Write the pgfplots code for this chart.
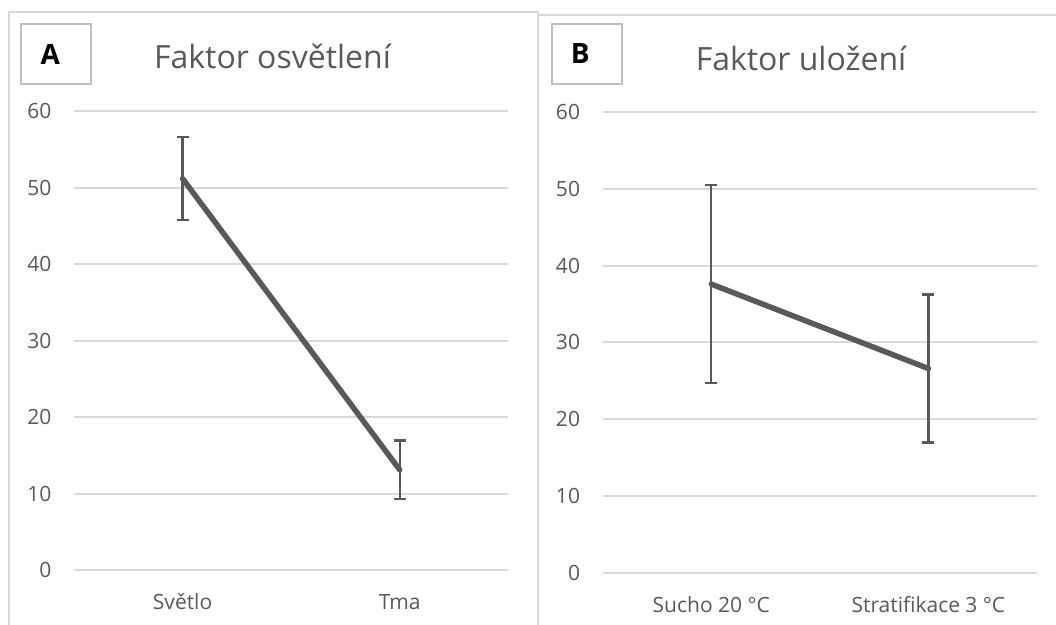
\documentclass[border=0pt]{standalone}
\usepackage{fontspec}
\setmainfont{Open Sans}
\usepackage{pgfplots}
\pgfplotsset{compat=1.18}
\definecolor{txt}{HTML}{595959}
\definecolor{gridc}{HTML}{D9D9D9}
\definecolor{boxc}{HTML}{BFBFBF}
\definecolor{serc}{HTML}{595959}
\pgfplotsset{
  panel/.style={
    scale only axis, width=434.3bp,
    xmin=-0.5, xmax=1.5, ymin=0, ymax=60,
    ytick={0,10,...,60}, xtick={0,1},
    axis line style={draw=none},
    major tick length=0pt,
    ymajorgrids, grid style={gridc, line width=2bp},
    tick label style={font=\fontsize{21bp}{25bp}\selectfont, text=txt},
    /pgf/number format/assume math mode=true,
    yticklabel style={anchor=east, inner sep=0pt, xshift=-22.5bp},
    xticklabel style={anchor=base, inner sep=0pt, yshift=-39.5bp},
    clip=false,
  },
  myser/.style={serc, line width=5.5bp, line cap=round, line join=round, mark=none,
    error bars/.cd, y dir=both, y explicit,
    error bar style={line width=2.3bp, serc, line cap=butt},
    error mark options={rotate=90, mark size=6bp, line width=2.3bp, serc}},
}
\begin{document}
\begin{tikzpicture}
\useasboundingbox (0,0) rectangle (1056bp,625bp);
% frames
\draw[gridc, line width=2bp] (9.3bp,-5bp) -- (9.3bp,613.3bp) -- (538.3bp,613.3bp) -- (538.3bp,-5bp);
\draw[gridc, line width=2bp] (1070bp,610.3bp) -- (538.3bp,610.3bp) -- (538.3bp,-5bp);
% label boxes
\draw[boxc, line width=2bp] (20.7bp,601bp) rectangle (90.7bp,540.7bp);
\draw[boxc, line width=2bp] (552bp,601bp) rectangle (622bp,540.7bp);
\node[anchor=base, inner sep=0pt, font=\bfseries\fontsize{28bp}{30bp}\selectfont] at (50.3bp,560.7bp) {A};
\node[anchor=base, inner sep=0pt, font=\bfseries\fontsize{28bp}{30bp}\selectfont] at (580.3bp,561bp) {B};
% titles
\node[anchor=base, inner sep=0pt, text=txt, font=\fontsize{32bp}{36bp}\selectfont] at (272.5bp,556.7bp) {Faktor osvětlení};
\node[anchor=base, inner sep=0pt, text=txt, font=\fontsize{32bp}{36bp}\selectfont] at (801bp,554.5bp) {Faktor uložení};

\begin{axis}[panel, height=458.7bp, at={(74bp,55bp)}, anchor=south west,
  xticklabels={Světlo, Tma}]
\addplot[myser] coordinates {(0,51.2) +- (0,5.4) (1,13.1) +- (0,3.85)};
\end{axis}

\begin{axis}[panel, height=460.5bp, at={(602.7bp,52.3bp)}, anchor=south west,
  xticklabels={Sucho 20 °C, Stratifikace 3 °C}]
\addplot[myser] coordinates {(0,37.6) +- (0,12.9) (1,26.6) +- (0,9.65)};
\end{axis}
\end{tikzpicture}
\end{document}
